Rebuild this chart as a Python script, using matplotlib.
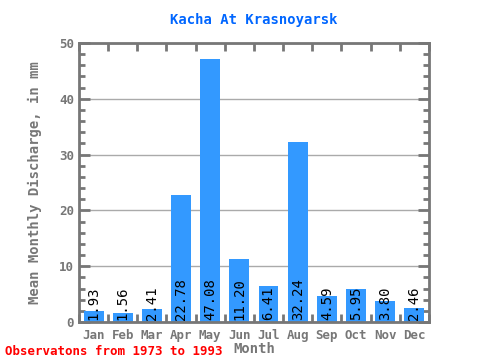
import matplotlib
matplotlib.use("Agg")
import matplotlib.pyplot as plt
import numpy as np
from matplotlib.ticker import MultipleLocator

months = ["Jan", "Feb", "Mar", "Apr", "May", "Jun", "Jul", "Aug", "Sep", "Oct", "Nov", "Dec"]
discharge = [1.93, 1.56, 2.41, 22.78, 47.08, 11.20, 6.41, 32.24, 4.59, 5.95, 3.80, 2.46]

plt.rcParams['font.family'] = ['DejaVu Sans Mono']
gray = '#777777'

fig = plt.figure(figsize=(4.8, 3.6), dpi=100)
ax = fig.add_axes([0.1646, 0.1056, 0.729, 0.775])

index = np.arange(len(months))
bars = ax.bar(index, discharge, width=0.68, color='#3399ff', zorder=2)

# value labels, rotated, starting at the bar base
for rect, v in zip(bars, discharge):
    ax.text(rect.get_x() + rect.get_width() / 2, 0.4, '{:.2f}'.format(v),
            rotation=90, ha='center', va='bottom', fontsize=10, color='black', zorder=3)

ax.set_xlim(-0.5, 11.5)
ax.set_ylim(0, 50)
ax.set_xticks(index)
ax.set_xticklabels(months)
ax.set_xticks(np.arange(-0.5, 12, 1), minor=True)
ax.set_yticks([0, 10, 20, 30, 40, 50])
ax.yaxis.set_minor_locator(MultipleLocator(2))

ax.yaxis.grid(True, color='#aaaaaa', linewidth=1, zorder=0)
ax.tick_params(axis='x', which='major', length=0, pad=5, labelsize=9, labelcolor=gray)
ax.tick_params(axis='x', which='minor', direction='in', length=6, width=2, color=gray,
               top=True, bottom=True)
ax.tick_params(axis='y', which='major', direction='in', length=8, width=2, color=gray,
               labelsize=9, labelcolor=gray, right=True)
ax.tick_params(axis='y', which='minor', direction='in', length=4, width=2, color=gray, right=True)
for lbl in ax.get_xticklabels() + ax.get_yticklabels():
    lbl.set_fontweight('bold')

for s in ax.spines.values():
    s.set_color(gray)
    s.set_linewidth(2)

ax.set_title('Kacha At Krasnoyarsk', color='#0066ff', fontsize=10, fontweight='bold', pad=14)
ax.set_xlabel('Month', color=gray, fontsize=10, fontweight='bold', labelpad=0)
ax.set_ylabel('Mean Monthly Discharge, in mm', color=gray, fontsize=10, fontweight='bold', labelpad=12)

fig.text(0.01, 0.015, 'Observatons from 1973 to 1993', color='red', fontsize=9, fontweight='bold')

plt.savefig('out.png', dpi=100)
